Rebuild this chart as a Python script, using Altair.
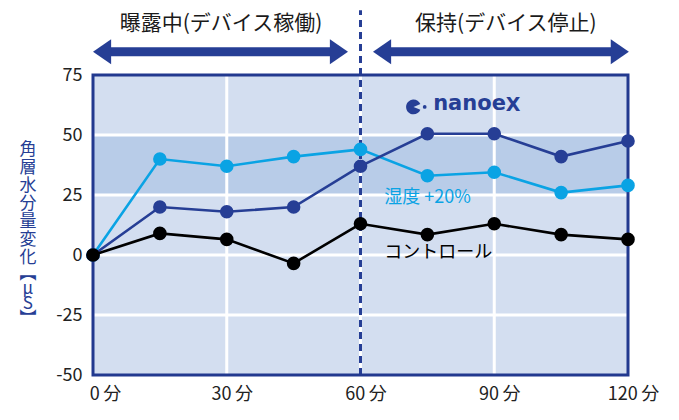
import altair as alt
import pandas as pd

FONT = "Noto Sans CJK JP"

# ---- data ----
minutes = [0, 15, 30, 45, 60, 75, 90, 105, 120]
humidity_20 = [0, 40, 37, 41, 44, 33, 34.5, 26, 29]
nanoe_x = [0, 20, 18, 20, 37, 50.5, 50.5, 41, 47.5]
control = [0, 9, 6.5, -3.5, 13, 8.5, 13, 8.5, 6.5]

series_names = ["湿度 +20%", "nanoeX", "コントロール"]
series_values = [humidity_20, nanoe_x, control]
series_colors = ["#0aa3e4", "#263e95", "#000000"]

x_ticks = [0, 30, 60, 90, 120]
y_ticks = [75, 50, 25, 0, -25, -50]
grid_y = [50, 25, 0, -25]
grid_x = [30, 60, 90]
band_range = [25, 50]
x_domain = [0, 120]
y_domain = [-50, 75]

phase_labels = ["曝露中(デバイス稼働)", "保持(デバイス停止)"]
y_title_chars = ["角", "層", "水", "分", "量", "変", "化"]
y_unit_chars = ["︻", "μ", "S", "︼"]

DARK = "#263e95"
BG = "#d3def0"
BAND = "#b8cce8"

xs = alt.Scale(domain=x_domain, nice=False, zero=False)
ys = alt.Scale(domain=y_domain, nice=False, zero=False)

x_axis = alt.Axis(values=x_ticks, labelExpr="datum.value + '\u2009分'", grid=False, ticks=False,
                  domain=False, labelFontSize=18, labelColor="#222222", labelFont=FONT,
                  labelPadding=10, title=None, labelFlush=False,
                  labelOffset={"condition": {"test": "datum.value == 0", "value": 12}, "value": 5})
y_axis = alt.Axis(values=y_ticks, grid=False, ticks=False, domain=False, labelFontSize=18,
                  labelColor="#222222", labelFont=FONT, labelPadding=11, title=None,
                  labelFlush=False,
                  labelExpr="datum.value < 0 ? '-' + abs(datum.value) : '' + datum.value")


def X(field):
    return alt.X(field, type="quantitative", scale=xs, axis=x_axis)


def Y(field):
    return alt.Y(field, type="quantitative", scale=ys, axis=y_axis)


layers = []

# shaded band 25-50
band_df = pd.DataFrame({"x": [x_domain[0]], "x2": [x_domain[1]], "y": [band_range[0]], "y2": [band_range[1]]})
layers.append(alt.Chart(band_df).mark_rect(color=BAND).encode(
    x=X("x"), x2="x2", y=Y("y"), y2="y2"))

# white gridlines
gy = pd.DataFrame({"y": grid_y})
layers.append(alt.Chart(gy).mark_rule(color="white", strokeWidth=3).encode(y=Y("y")))
gx = pd.DataFrame({"x": grid_x})
layers.append(alt.Chart(gx).mark_rule(color="white", strokeWidth=3).encode(x=X("x")))

# dashed divider at 60 min
div_df = pd.DataFrame({"x": [60], "y": [y_domain[0]], "y2": [102]})
layers.append(alt.Chart(div_df).mark_rule(color=DARK, strokeWidth=3, strokeDash=[7, 5], clip=False).encode(
    x=X("x"), y=Y("y"), y2="y2"))

# border
layers.append(alt.Chart(band_df.assign(y=y_domain[0], y2=y_domain[1])).mark_rect(
    fillOpacity=0, stroke="#22398f", strokeWidth=3).encode(x=X("x"), x2="x2", y=Y("y"), y2="y2"))

# series lines and points
for name, vals, col in zip(series_names, series_values, series_colors):
    d = pd.DataFrame({"minute": minutes, "value": vals})
    base = alt.Chart(d).encode(x=X("minute"), y=Y("value"))
    layers.append(base.mark_line(color=col, strokeWidth=2.6))
    layers.append(base.mark_point(color=col, filled=True, size=185, opacity=1))

# arrows
ARROW_Y = 84.7
shaft_df = pd.DataFrame({"x": [3.5, 66.3], "x2": [53.7, 116.7], "y": [ARROW_Y, ARROW_Y]})
layers.append(alt.Chart(shaft_df).mark_rule(color=DARK, strokeWidth=9, clip=False).encode(
    x=X("x"), x2="x2", y=Y("y")))
left_heads = pd.DataFrame({"x": [0, 62.8], "y": [ARROW_Y, ARROW_Y]})
right_heads = pd.DataFrame({"x": [57.2, 120.2], "y": [ARROW_Y, ARROW_Y]})
layers.append(alt.Chart(left_heads).mark_point(shape="M0,0L1.45,-1L1.45,1Z", filled=True, size=625,
                                               color=DARK, opacity=1, clip=False).encode(x=X("x"), y=Y("y")))
layers.append(alt.Chart(right_heads).mark_point(shape="M0,0L-1.45,-1L-1.45,1Z", filled=True, size=625,
                                                color=DARK, opacity=1, clip=False).encode(x=X("x"), y=Y("y")))

# phase labels
ph_df = pd.DataFrame({"x": [28.7, 92.6], "y": [97.3, 97.3], "t": phase_labels})
layers.append(alt.Chart(ph_df).mark_text(font=FONT, fontSize=21, color="#1a1a1a", clip=False,
                                         dy=3).encode(x=X("x"), y=Y("y"), text="t:N"))

# series annotations
ann_df = pd.DataFrame({"x": [65.3, 65.3], "y": [23.6, 0.8], "t": ["湿度 +20%", "コントロール"],
                       "c": ["#0aa3e4", "#000000"]})
layers.append(alt.Chart(ann_df).mark_text(font=FONT, fontSize=18, align="left", clip=False).encode(
    x=X("x"), y=Y("y"), text="t:N", color=alt.Color("c:N", scale=None)))

# nanoeX logo
logo_c = pd.DataFrame({"x": [71.9], "y": [61.7]})
layers.append(alt.Chart(logo_c).mark_point(
    shape="M0,0L0.92,-0.38A1,1 0 1,0 0.92,0.38Z", filled=True, size=220, color=DARK, opacity=1,
    clip=False).encode(x=X("x"), y=Y("y")))
logo_dot = pd.DataFrame({"x": [74.4], "y": [61.7]})
layers.append(alt.Chart(logo_dot).mark_point(filled=True, size=14, color=DARK, opacity=1,
                                             clip=False).encode(x=X("x"), y=Y("y")))
logo_txt = pd.DataFrame({"x": [76.3], "y": [61.7], "t": ["nanoe"]})
layers.append(alt.Chart(logo_txt).mark_text(font="DejaVu Sans", fontWeight="bold", fontSize=21,
                                            align="left", baseline="middle", color=DARK, clip=False,
                                            dy=-3).encode(x=X("x"), y=Y("y"), text="t:N"))
logo_x = pd.DataFrame({"x": [92.6], "y": [61.7], "t": ["X"]})
layers.append(alt.Chart(logo_x).mark_text(font="DejaVu Sans", fontWeight="bold", fontSize=19,
                                          align="left", baseline="middle", color=DARK, clip=False,
                                          dy=-2).encode(x=X("x"), y=Y("y"), text="t:N"))

# vertical y-axis title
yt_df = pd.DataFrame({"x": [-14.6], "y": [47.1]})
layers.append(alt.Chart(yt_df).mark_text(
    text=y_title_chars, font=FONT, fontSize=17, lineHeight=18,
    baseline="top", align="center", color=DARK, clip=False).encode(x=X("x"), y=Y("y")))
unit_df = pd.DataFrame({"x": [-14.6], "y": [-4.5]})
layers.append(alt.Chart(unit_df).mark_text(
    text=y_unit_chars, font=FONT, fontSize=17, lineHeight=15, baseline="top", align="center",
    color=DARK, clip=False).encode(x=X("x"), y=Y("y")))

chart = alt.layer(*layers).properties(
    width=535, height=300,
    autosize=alt.AutoSizeParams(type="none"),
    padding={"left": 85, "top": 67, "right": 40, "bottom": 40},
).configure_view(fill=BG, stroke=None)

chart.save("out.html", embed_options={"renderer": "svg", "actions": False})
